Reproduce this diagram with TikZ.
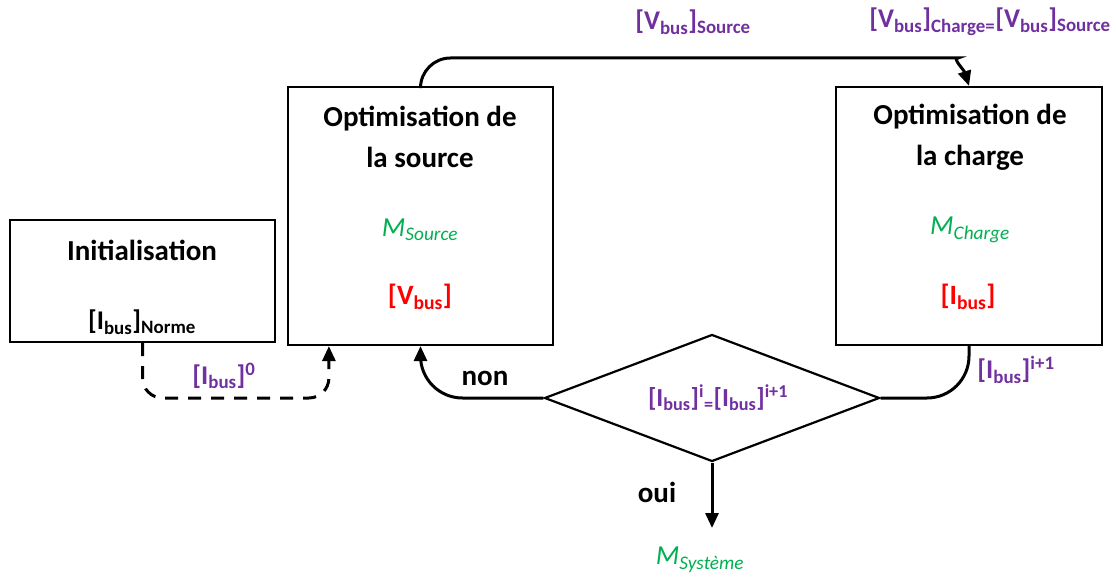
\documentclass[tikz,border=0pt]{standalone}
\usepackage{fontspec}
\setmainfont{Carlito}
\usetikzlibrary{shapes.geometric,arrows.meta}
\definecolor{violetbus}{RGB}{112,48,160}
\definecolor{vertM}{RGB}{0,176,80}
\definecolor{rougeV}{RGB}{255,0,0}
% grandeurs du bus
\newcommand{\grbus}[1]{[#1\textsubscript{bus}]}
\newcommand{\modele}[1]{\textit{M\textsubscript{#1}}}
\begin{document}
\begin{tikzpicture}[x=1pt,y=-1pt,
    bloc/.style={draw,line width=2.2pt,inner sep=0pt},
    titre/.style={font=\fontsize{29}{41}\selectfont\bfseries,align=center},
    vert/.style={font=\fontsize{27.5}{30}\selectfont,text=vertM},
    rouge/.style={font=\fontsize{28}{30}\selectfont\bfseries,text=rougeV},
    violet/.style={font=\fontsize{27}{30}\selectfont\bfseries,text=violetbus},
    noir/.style={font=\fontsize{29}{30}\selectfont\bfseries},
    fleche/.style={line width=3pt,-{Triangle[length=15pt,width=13pt]}},
    ligne/.style={line width=3pt}]
  \useasboundingbox (0,0) rectangle (1116,577);

  % les trois blocs et le test
  \node[bloc,minimum width=265pt,minimum height=122pt] (ini) at (142.5,281) {};
  \node[bloc,minimum width=265pt,minimum height=258pt] (src) at (420.5,216) {};
  \node[bloc,minimum width=266pt,minimum height=258pt] (chg) at (969,216) {};
  \node[bloc,diamond,fill=white,minimum width=335pt,minimum height=127pt] (dec) at (712,398) {};

  % textes dans les blocs
  \node[titre] (iniT) at (142,250) {Initialisation};
  \node[noir,font=\fontsize{27}{30}\selectfont\bfseries] (iniN) at (142,322) {\grbus{I}\textsubscript{Norme}};
  \node[titre] (srcT) at (420,137) {Optimisation de\\la source};
  \node[vert] (srcM) at (420,230) {\modele{Source}};
  \node[rouge] (srcV) at (420,297) {\grbus{V}};
  \node[titre] (chgT) at (970,137) {Optimisation de\\la charge};
  \node[vert] (chgM) at (970,230) {\modele{Charge}};
  \node[rouge] (chgI) at (968,297) {\grbus{I}};
  \node[font=\fontsize{26}{28}\selectfont\bfseries,text=violetbus] (decT) at (718,398) {\grbus{I}\textsuperscript{i}\textsubscript{=}\grbus{I}\textsuperscript{i+1}};

  % points de passage
  \coordinate (haut) at (700,58);
  \coordinate (finHaut) at (928,58);
  \coordinate (basIni) at (236,398);
  \coordinate (finIni) at ([xshift=42pt]src.south west);
  \coordinate (sortie) at (712,528);

  % connexions
  \draw[fleche,rounded corners=30pt] (src.north) |- (haut) -- (finHaut) .. controls (952,58) and (964,70) .. (chg.north);
  \draw[fleche,rounded corners=42pt] (dec.west) -| (src.south);
  \draw[ligne,rounded corners=42pt] (dec.east) -| (chg.south);
  \draw[fleche,rounded corners=20pt,dash pattern=on 13pt off 10pt] (ini.south) |- (basIni) -| (finIni);
  \draw[fleche] (dec.south) -- (sortie);

  % etiquettes
  \node[violet] (lbV) at (693,22) {\grbus{V}\textsubscript{Source}};
  \node[violet] (lbVV) at (990,22) {\grbus{V}\textsubscript{Charge=}\grbus{V}\textsubscript{Source}};
  \node[violet] (lbI0) at (224,376) {\grbus{I}\textsuperscript{0}};
  \node[noir] (lbNon) at (485,378) {non};
  \node[noir] (lbOui) at (657,492) {oui};
  \node[violet] (lbIi) at (1016,370) {\grbus{I}\textsuperscript{i+1}};
  \node[vert] (sysM) at (700,560) {\modele{Système}};
\end{tikzpicture}
\end{document}
